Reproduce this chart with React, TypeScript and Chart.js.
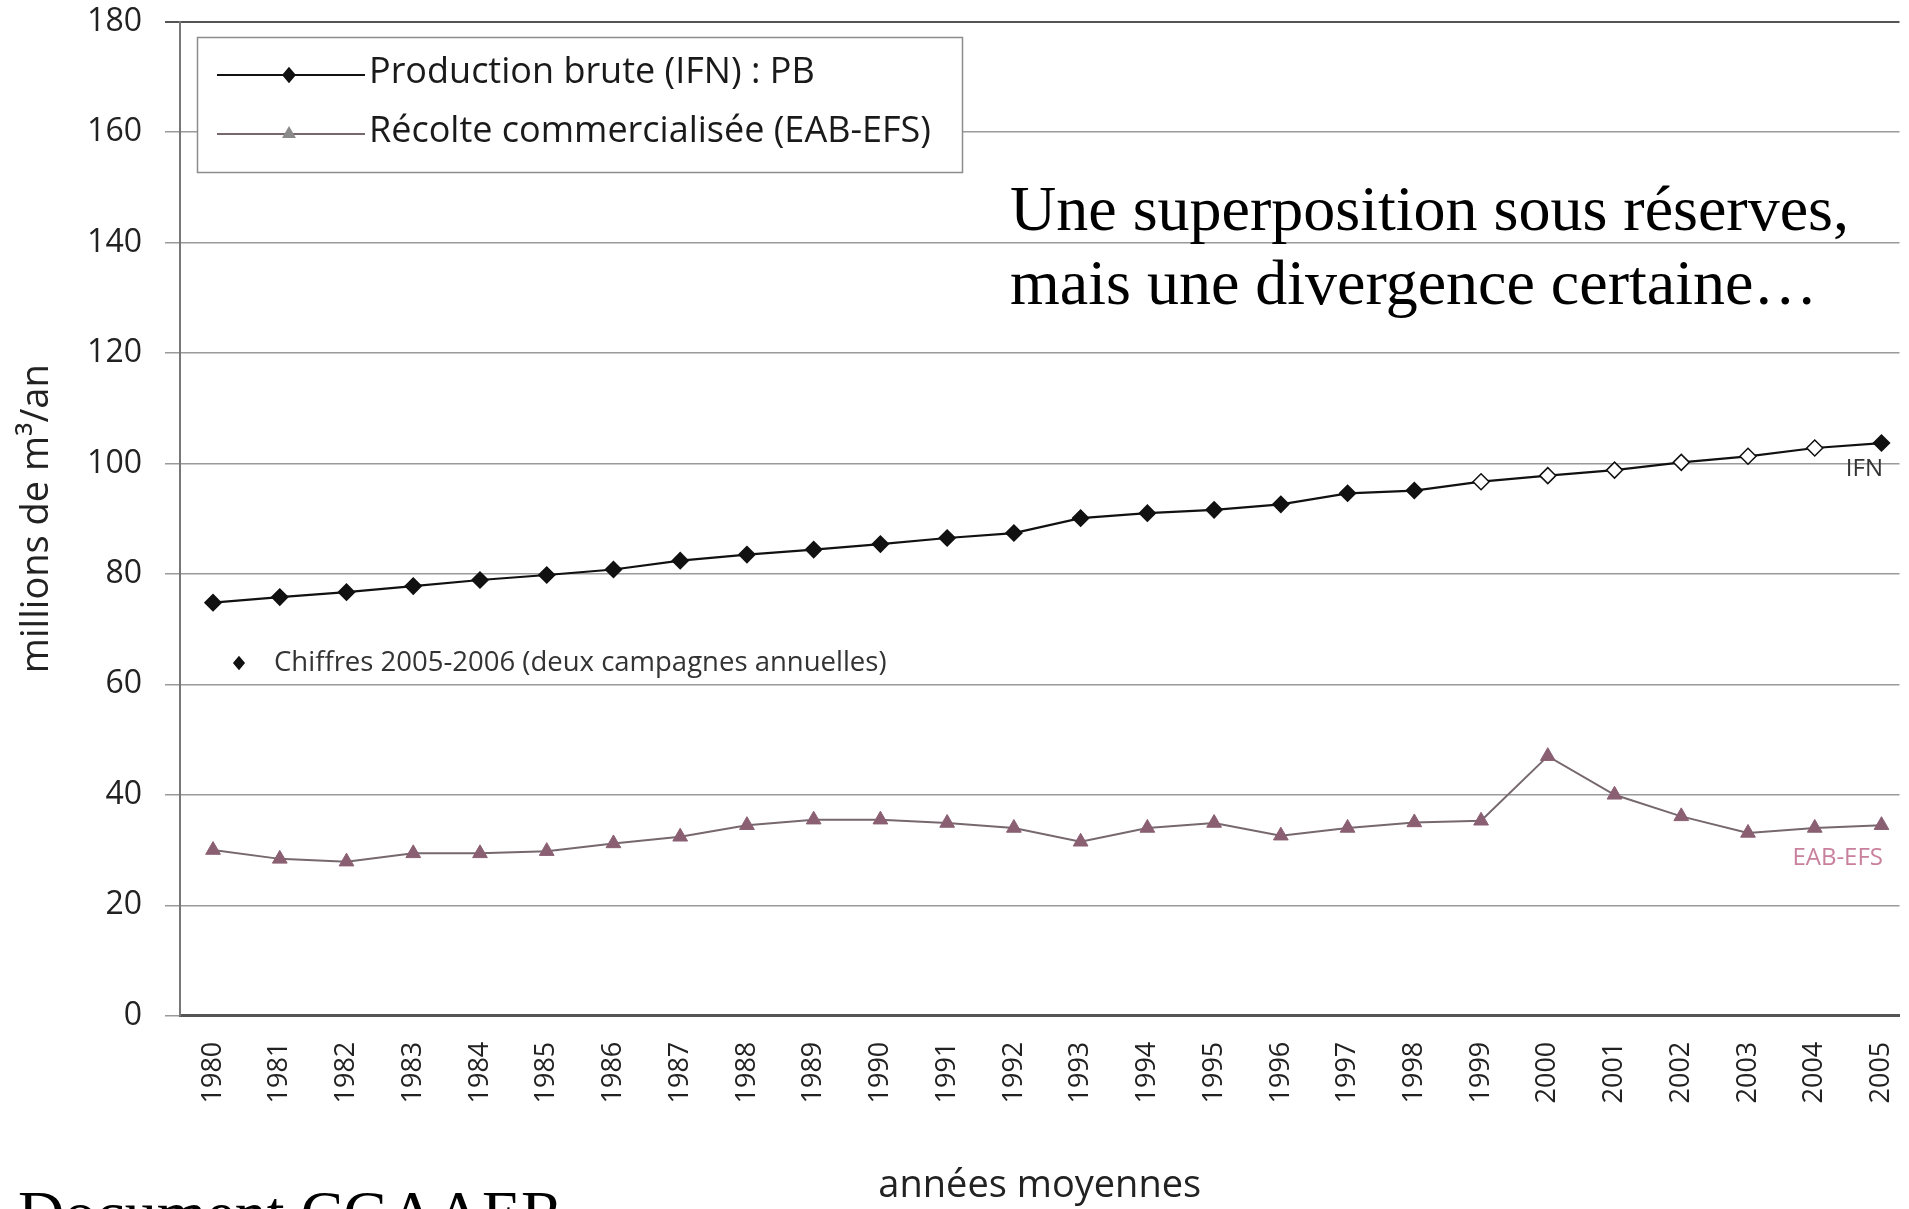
import React, { useEffect, useRef } from 'react';
import { Chart, registerables } from 'chart.js';

Chart.register(...registerables);

// ---- Data ----
const years = [1980, 1981, 1982, 1983, 1984, 1985, 1986, 1987, 1988, 1989, 1990, 1991, 1992, 1993, 1994, 1995, 1996, 1997, 1998, 1999, 2000, 2001, 2002, 2003, 2004, 2005];
const productionBrute = [74.8, 75.8, 76.7, 77.8, 78.9, 79.8, 80.8, 82.4, 83.5, 84.4, 85.4, 86.5, 87.4, 90.1, 91.0, 91.6, 92.6, 94.6, 95.1, 96.7, 97.8, 98.8, 100.2, 101.3, 102.8, 103.7];
const recolteCommercialisee = [30.0, 28.4, 27.9, 29.4, 29.4, 29.8, 31.2, 32.4, 34.5, 35.5, 35.5, 34.9, 34.0, 31.5, 34.0, 34.9, 32.6, 34.0, 35.0, 35.3, 47.0, 40.0, 36.1, 33.1, 34.0, 34.5];
const hollowYears = [1999, 2000, 2001, 2002, 2003, 2004];
const yTickValues = [0, 20, 40, 60, 80, 100, 120, 140, 160, 180];

const seriesLabels = ['Production brute (IFN) : PB', 'Récolte commercialisée (EAB-EFS)'];
const noteText = 'Chiffres 2005-2006 (deux campagnes annuelles)';
const annotationLines = ['Une superposition sous réserves,', 'mais une divergence certaine…'];
const sourceText = 'Document CGAAER';
const yTitle = 'millions de m³/an';
const xTitle = 'années moyennes';

const SANS = '"Open Sans", "DejaVu Sans", sans-serif';
const SERIF = '"Liberation Serif", "Times New Roman", serif';

const W = 1909;
const H = 1209;

const PB_COLOR = '#111111';
const EAB_LINE = '#76686e';
const EAB_MARK = '#8a5f72';

function diamond(ctx: CanvasRenderingContext2D, x: number, y: number, r: number, fill: string, stroke: string) {
  ctx.beginPath();
  ctx.moveTo(x, y - r);
  ctx.lineTo(x + r * 0.85, y);
  ctx.lineTo(x, y + r);
  ctx.lineTo(x - r * 0.85, y);
  ctx.closePath();
  ctx.fillStyle = fill;
  ctx.fill();
  ctx.strokeStyle = stroke;
  ctx.lineWidth = 1.5;
  ctx.stroke();
}

function triangle(ctx: CanvasRenderingContext2D, x: number, y: number, r: number, fill: string) {
  ctx.beginPath();
  ctx.moveTo(x, y - r);
  ctx.lineTo(x + r * 0.87, y + r * 0.5);
  ctx.lineTo(x - r * 0.87, y + r * 0.5);
  ctx.closePath();
  ctx.fillStyle = fill;
  ctx.fill();
}

const overlay = {
  id: 'overlay',
  afterDraw(chart: any) {
    const ctx: CanvasRenderingContext2D = chart.ctx;
    ctx.save();
    // legend box
    ctx.fillStyle = '#ffffff';
    ctx.fillRect(197, 37, 765, 135);
    ctx.strokeStyle = '#8c8c8c';
    ctx.lineWidth = 1.5;
    ctx.strokeRect(197.5, 37.5, 765, 135);

    // row 1
    ctx.strokeStyle = PB_COLOR;
    ctx.lineWidth = 2;
    ctx.beginPath();
    ctx.moveTo(217, 75);
    ctx.lineTo(365, 75);
    ctx.stroke();
    diamond(ctx, 289, 75, 7, PB_COLOR, PB_COLOR);
    ctx.fillStyle = '#1a1a1a';
    ctx.font = `36px ${SANS}`;
    ctx.textBaseline = 'middle';
    ctx.textAlign = 'left';
    ctx.fillText(seriesLabels[0], 369, 73);

    // row 2
    ctx.strokeStyle = EAB_LINE;
    ctx.lineWidth = 2;
    ctx.beginPath();
    ctx.moveTo(217, 134);
    ctx.lineTo(365, 134);
    ctx.stroke();
    triangle(ctx, 289, 134, 8, '#8a8a8a');
    ctx.fillStyle = '#1a1a1a';
    ctx.fillText(seriesLabels[1], 369, 132);

    // note
    diamond(ctx, 239, 663, 6, '#111', '#111');
    ctx.fillStyle = '#333333';
    ctx.font = `27.5px ${SANS}`;
    ctx.fillText(noteText, 274, 663);

    // series end labels
    ctx.textAlign = 'right';
    ctx.font = `24px ${SANS}`;
    ctx.fillStyle = '#333333';
    ctx.fillText('IFN', 1883, 469);
    ctx.fillStyle = '#c8809c';
    ctx.fillText('EAB-EFS', 1883, 858);

    // annotation
    ctx.textAlign = 'left';
    ctx.textBaseline = 'alphabetic';
    ctx.fillStyle = '#000000';
    ctx.font = `64px ${SERIF}`;
    ctx.fillText(annotationLines[0], 1010, 230);
    ctx.fillText(annotationLines[1], 1010, 304);

    // source
    ctx.font = `64px ${SERIF}`;
    ctx.fillText(sourceText, 18, 1235);
    ctx.restore();
  },
};

export default function App() {
  const ref = useRef<HTMLCanvasElement | null>(null);

  useEffect(() => {
    if (!ref.current) return;
    const pbData = years.map((y, i) => ({ x: y, y: productionBrute[i] }));
    const eabData = years.map((y, i) => ({ x: y, y: recolteCommercialisee[i] }));
    const pbFill = years.map((y) => (hollowYears.includes(y) ? '#ffffff' : PB_COLOR));

    const chart = new Chart(ref.current, {
      type: 'line',
      data: {
        datasets: [
          {
            label: seriesLabels[0],
            data: pbData,
            borderColor: PB_COLOR,
            borderWidth: 2.2,
            pointStyle: 'rectRot',
            pointRadius: 8,
            pointBackgroundColor: pbFill,
            pointBorderColor: PB_COLOR,
            pointBorderWidth: 1.5,
            tension: 0,
          },
          {
            label: seriesLabels[1],
            data: eabData,
            borderColor: EAB_LINE,
            borderWidth: 2,
            pointStyle: 'triangle',
            pointRadius: 8.5,
            pointBackgroundColor: EAB_MARK,
            pointBorderColor: EAB_MARK,
            pointBorderWidth: 1,
            tension: 0,
          },
        ],
      },
      options: {
        animation: false,
        responsive: false,
        devicePixelRatio: 1,
        layout: { padding: { top: 21.7, left: 0, right: 0, bottom: 0 } },
        plugins: {
          legend: { display: false },
          tooltip: { enabled: false },
        },
        scales: {
          x: {
            type: 'linear',
            min: 1979.505,
            max: 2005.27,
            afterBuildTicks: (s: any) => {
              s.ticks = years.map((v) => ({ value: v }));
            },
            afterFit: (s: any) => {
              s.height = H - 1015.7;
              s.paddingLeft = 0;
              s.paddingRight = 0;
            },
            grid: { display: false, drawTicks: false },
            border: { display: true, color: '#555555', width: 3 },
            ticks: {
              autoSkip: false,
              minRotation: 90,
              maxRotation: 90,
              padding: 26,
              color: '#222222',
              font: { size: 27, family: SANS },
              callback: (v: any) => String(v),
            },
            title: {
              display: true,
              text: xTitle,
              color: '#222222',
              font: { size: 38, family: SANS },
              padding: { top: 0, bottom: 0 },
            },
          },
          y: {
            min: 0,
            max: 180,
            afterBuildTicks: (s: any) => {
              s.ticks = yTickValues.map((v) => ({ value: v }));
            },
            afterFit: (s: any) => {
              s.width = 180;
              s.paddingTop = 0;
              s.paddingBottom = 0;
            },
            grid: {
              color: (c: any) => (c.tick && c.tick.value === 180 ? '#555555' : '#9a9a9a'),
              lineWidth: (c: any) => (c.tick && c.tick.value === 180 ? 2 : 1.5),
              tickLength: 15,
              drawTicks: true,
            },
            border: { display: true, color: '#777777', width: 2 },
            ticks: {
              padding: 23,
              color: '#222222',
              font: { size: 32, family: SANS },
            },
            title: {
              display: true,
              text: yTitle,
              color: '#222222',
              font: { size: 38, family: SANS },
              padding: { top: 14, bottom: 0 },
            },
          },
        },
      },
      plugins: [overlay],
    } as any);

    return () => chart.destroy();
  }, []);

  return (
    <div style={{ position: 'fixed', left: 0, top: 0, width: W, height: H, background: '#ffffff' }}>
      <canvas ref={ref} width={W} height={H} style={{ display: 'block' }} />
    </div>
  );
}
